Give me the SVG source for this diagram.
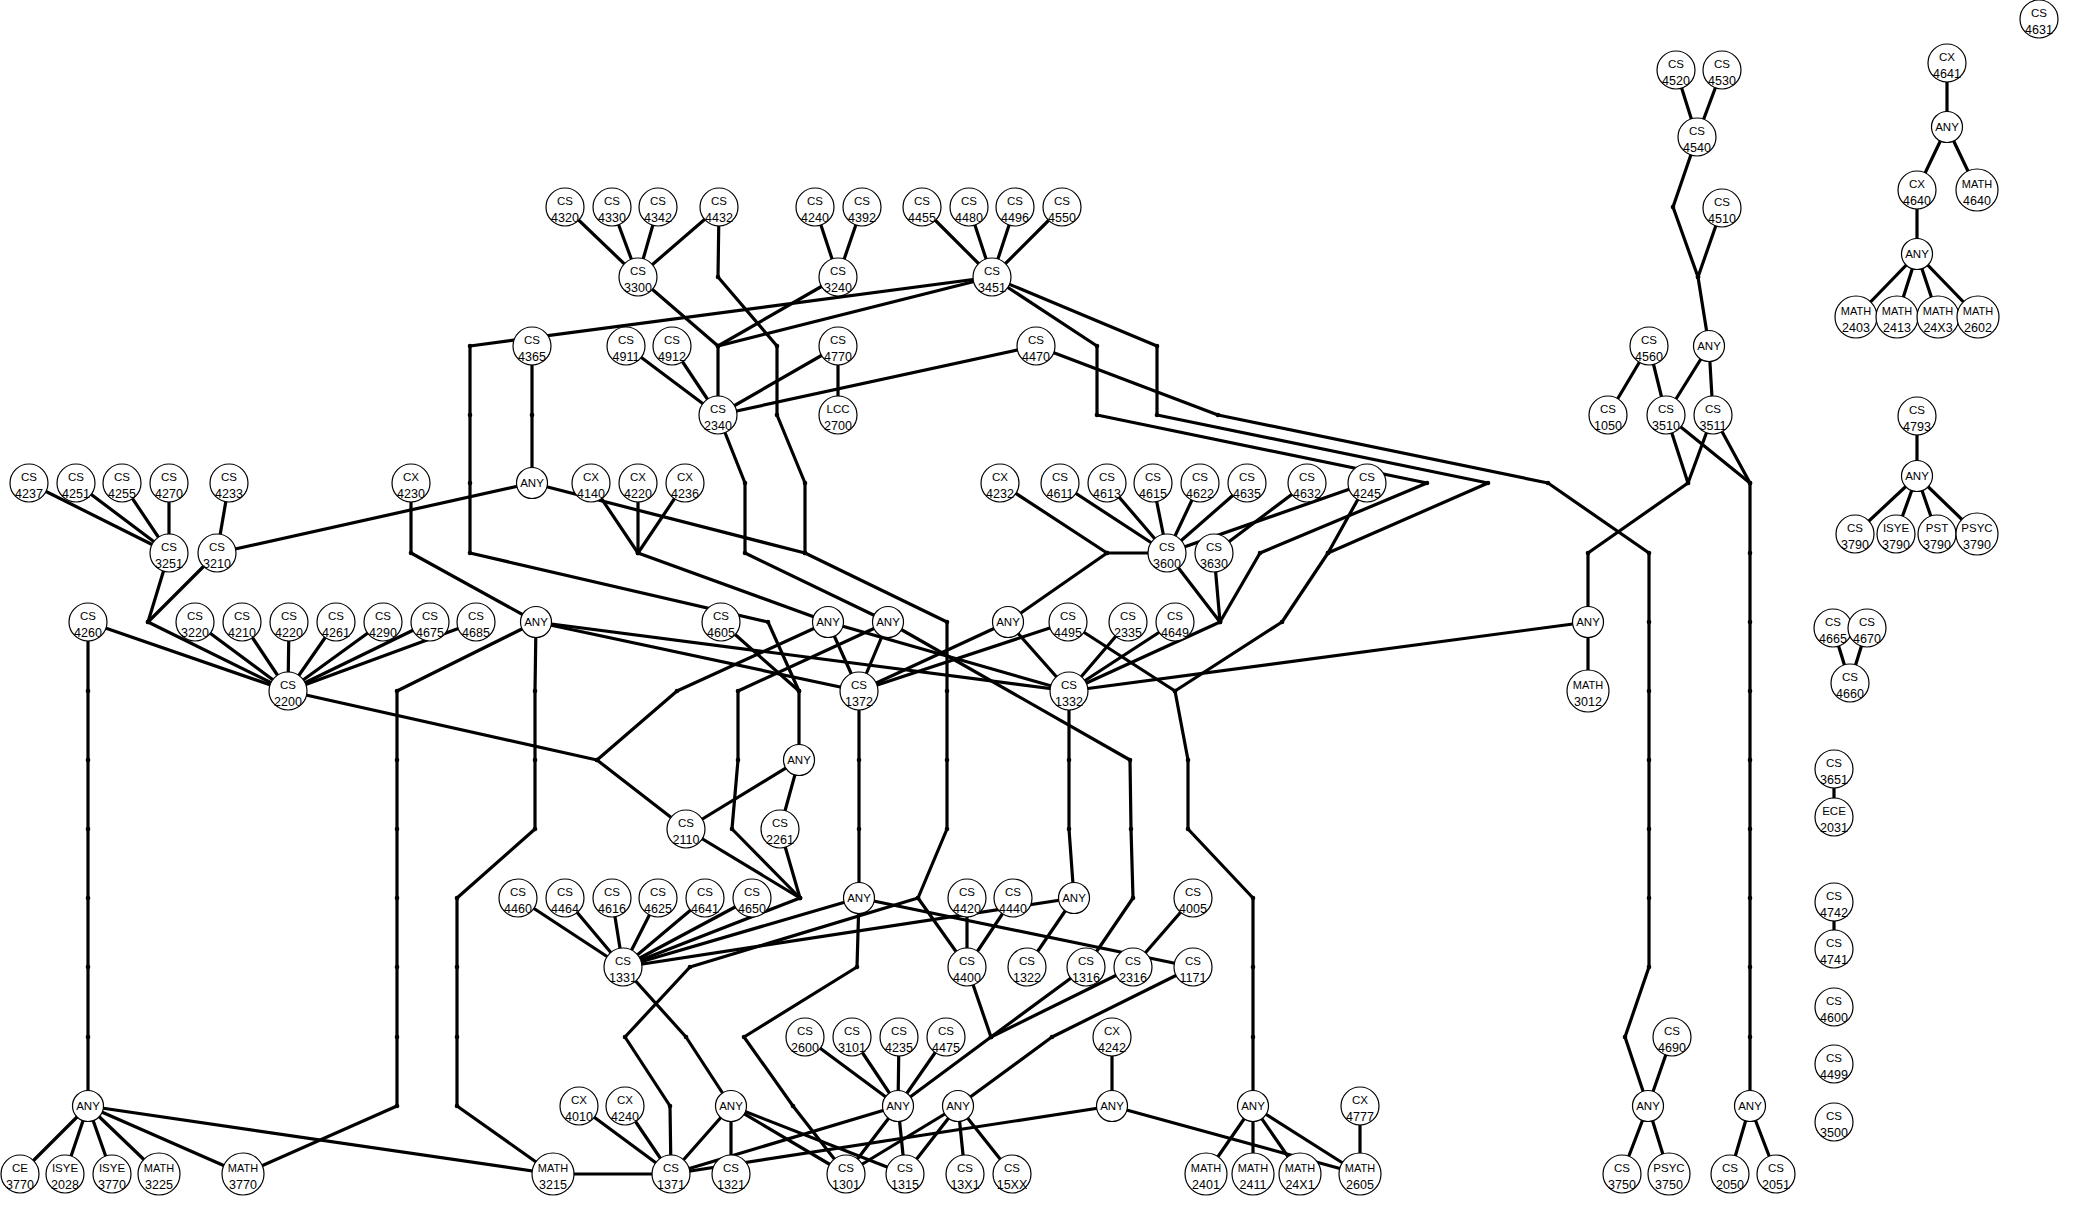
<svg xmlns="http://www.w3.org/2000/svg" width="2077" height="1215" viewBox="0 0 2077 1215">
<style>
.e{fill:none;stroke:#000;stroke-width:3.2;stroke-linejoin:round;stroke-linecap:round;marker-start:url(#d);marker-mid:url(#d);marker-end:url(#d)}
.n{fill:#fff;stroke:#000;stroke-width:1.2}
text{font-family:"Liberation Sans",Arial,sans-serif;font-size:12.5px;text-anchor:middle;fill:#000}
.w{font-size:11.5px}
.m{font-size:11px}
.a{font-size:11.5px}
</style>
<defs>
<marker id="d" viewBox="0 0 6 6" refX="3" refY="3" markerWidth="6" markerHeight="6" markerUnits="userSpaceOnUse"><circle cx="3" cy="3" r="2.3" fill="#000"/></marker>
</defs>
<rect width="2077" height="1215" fill="#fff"/>
<g id="edges">
<polyline class="e" points="565,207 638,277"/>
<polyline class="e" points="612,207 638,277"/>
<polyline class="e" points="658,207 638,277"/>
<polyline class="e" points="719,207 638,277"/>
<polyline class="e" points="719,207 718,277 777,346 777,415 805,483 805,553 947,622 947,691 947,760 947,829 918,898 967,967"/>
<polyline class="e" points="815,207 838,277"/>
<polyline class="e" points="862,207 838,277"/>
<polyline class="e" points="922,207 992,277"/>
<polyline class="e" points="969,207 992,277"/>
<polyline class="e" points="1015,207 992,277"/>
<polyline class="e" points="1062,207 992,277"/>
<polyline class="e" points="992,277 470,346 470,415 470,483 470,553 768,622 799,691 799,760"/>
<polyline class="e" points="992,277 718,346"/>
<polyline class="e" points="838,277 718,346"/>
<polyline class="e" points="638,277 718,346 718,415"/>
<polyline class="e" points="626,346 718,415"/>
<polyline class="e" points="672,346 718,415"/>
<polyline class="e" points="838,346 718,415"/>
<polyline class="e" points="1036,346 718,415"/>
<polyline class="e" points="838,346 838,415"/>
<polyline class="e" points="532,346 532,415 532,483"/>
<polyline class="e" points="718,415 745,483 745,553 888,622"/>
<polyline class="e" points="532,483 217,553"/>
<polyline class="e" points="532,483 805,553"/>
<polyline class="e" points="591,483 638,553"/>
<polyline class="e" points="638,483 638,553"/>
<polyline class="e" points="685,483 638,553 828,622"/>
<polyline class="e" points="411,483 411,553 536,622"/>
<polyline class="e" points="29,483 169,553"/>
<polyline class="e" points="76,483 169,553"/>
<polyline class="e" points="122,483 169,553"/>
<polyline class="e" points="169,483 169,553"/>
<polyline class="e" points="229,483 217,553"/>
<polyline class="e" points="169,553 148,622"/>
<polyline class="e" points="217,553 148,622 288,691"/>
<polyline class="e" points="88,622 288,691"/>
<polyline class="e" points="195,622 288,691"/>
<polyline class="e" points="242,622 288,691"/>
<polyline class="e" points="289,622 288,691"/>
<polyline class="e" points="336,622 288,691"/>
<polyline class="e" points="383,622 288,691"/>
<polyline class="e" points="430,622 288,691"/>
<polyline class="e" points="476,622 288,691"/>
<polyline class="e" points="88,622 88,691 88,760 88,829 88,898 88,967 88,1037 88,1106"/>
<polyline class="e" points="536,622 397,691 397,760 397,829 397,898 397,967 397,1037 397,1106 243,1174"/>
<polyline class="e" points="536,622 535,691 535,760 535,829 457,898 457,967 457,1037 457,1106 553,1174"/>
<polyline class="e" points="536,622 859,691"/>
<polyline class="e" points="536,622 1069,691"/>
<polyline class="e" points="288,691 597,760 686,829"/>
<polyline class="e" points="828,622 677,691 597,760"/>
<polyline class="e" points="828,622 859,691"/>
<polyline class="e" points="828,622 1069,691"/>
<polyline class="e" points="888,622 859,691"/>
<polyline class="e" points="888,622 738,691 738,760 732,829 800,898 623,967"/>
<polyline class="e" points="686,829 800,898"/>
<polyline class="e" points="780,829 800,898"/>
<polyline class="e" points="888,622 1130,760 1131,829 1133,898 1086,967"/>
<polyline class="e" points="1008,622 859,691"/>
<polyline class="e" points="1008,622 1069,691"/>
<polyline class="e" points="1068,622 859,691"/>
<polyline class="e" points="1068,622 1175,691 1188,760 1188,829 1253,898 1253,967 1253,1037 1253,1106"/>
<polyline class="e" points="992,277 1097,346 1097,415 1427,483 1260,553 1220,622 1069,691"/>
<polyline class="e" points="992,277 1157,346 1157,415 1488,483 1328,553 1282,622 1175,691"/>
<polyline class="e" points="1367,483 1328,553"/>
<polyline class="e" points="1367,483 1167,553"/>
<polyline class="e" points="1307,483 1214,553"/>
<polyline class="e" points="1167,553 1220,622"/>
<polyline class="e" points="1214,553 1220,622"/>
<polyline class="e" points="1000,483 1107,553"/>
<polyline class="e" points="1167,553 1107,553 1008,622"/>
<polyline class="e" points="1060,483 1167,553"/>
<polyline class="e" points="1107,483 1167,553"/>
<polyline class="e" points="1153,483 1167,553"/>
<polyline class="e" points="1200,483 1167,553"/>
<polyline class="e" points="1247,483 1167,553"/>
<polyline class="e" points="1128,622 1069,691"/>
<polyline class="e" points="1175,622 1069,691"/>
<polyline class="e" points="1036,346 1218,415 1548,483 1649,553 1649,622 1649,691 1649,760 1649,829 1649,898 1649,967 1625,1037 1648,1106"/>
<polyline class="e" points="1588,622 1069,691"/>
<polyline class="e" points="1666,415 1688,483"/>
<polyline class="e" points="1713,415 1688,483 1588,553 1588,622"/>
<polyline class="e" points="1666,415 1750,483"/>
<polyline class="e" points="1713,415 1750,483 1750,553 1750,622 1750,691 1750,760 1750,829 1750,898 1750,967 1750,1037 1750,1106"/>
<polyline class="e" points="1588,622 1588,691"/>
<polyline class="e" points="721,622 799,691"/>
<polyline class="e" points="799,760 686,829"/>
<polyline class="e" points="799,760 780,829"/>
<polyline class="e" points="859,691 859,760 859,829 859,898"/>
<polyline class="e" points="859,898 623,967"/>
<polyline class="e" points="859,898 1193,967"/>
<polyline class="e" points="859,898 857,967 744,1037 793,1106 846,1174"/>
<polyline class="e" points="918,898 690,967 625,1037 670,1106 671,1174"/>
<polyline class="e" points="1069,691 1069,760 1069,829 1074,898"/>
<polyline class="e" points="1074,898 623,967"/>
<polyline class="e" points="1074,898 1027,967"/>
<polyline class="e" points="967,898 967,967"/>
<polyline class="e" points="1013,898 967,967"/>
<polyline class="e" points="518,898 623,967"/>
<polyline class="e" points="565,898 623,967"/>
<polyline class="e" points="612,898 623,967"/>
<polyline class="e" points="658,898 623,967"/>
<polyline class="e" points="705,898 623,967"/>
<polyline class="e" points="752,898 623,967"/>
<polyline class="e" points="1193,898 1133,967"/>
<polyline class="e" points="623,967 686,1037 731,1106"/>
<polyline class="e" points="731,1106 671,1174"/>
<polyline class="e" points="731,1106 731,1174"/>
<polyline class="e" points="731,1106 846,1174"/>
<polyline class="e" points="731,1106 905,1174"/>
<polyline class="e" points="579,1106 671,1174"/>
<polyline class="e" points="625,1106 671,1174"/>
<polyline class="e" points="553,1174 671,1174"/>
<polyline class="e" points="967,967 991,1037"/>
<polyline class="e" points="1086,967 991,1037"/>
<polyline class="e" points="1133,967 991,1037 898,1106"/>
<polyline class="e" points="1193,967 1052,1037 958,1106"/>
<polyline class="e" points="805,1037 898,1106"/>
<polyline class="e" points="852,1037 898,1106"/>
<polyline class="e" points="899,1037 898,1106"/>
<polyline class="e" points="946,1037 898,1106"/>
<polyline class="e" points="898,1106 671,1174"/>
<polyline class="e" points="898,1106 846,1174"/>
<polyline class="e" points="898,1106 905,1174"/>
<polyline class="e" points="958,1106 846,1174"/>
<polyline class="e" points="958,1106 905,1174"/>
<polyline class="e" points="958,1106 965,1174"/>
<polyline class="e" points="958,1106 1012,1174"/>
<polyline class="e" points="1112,1037 1112,1106"/>
<polyline class="e" points="1112,1106 671,1174"/>
<polyline class="e" points="1112,1106 1360,1174"/>
<polyline class="e" points="1253,1106 1206,1174"/>
<polyline class="e" points="1253,1106 1253,1174"/>
<polyline class="e" points="1253,1106 1300,1174"/>
<polyline class="e" points="1253,1106 1360,1174"/>
<polyline class="e" points="1360,1106 1360,1174"/>
<polyline class="e" points="88,1106 20,1174"/>
<polyline class="e" points="88,1106 65,1174"/>
<polyline class="e" points="88,1106 112,1174"/>
<polyline class="e" points="88,1106 159,1174"/>
<polyline class="e" points="88,1106 243,1174"/>
<polyline class="e" points="88,1106 553,1174"/>
<polyline class="e" points="1676,70 1697,137"/>
<polyline class="e" points="1722,70 1697,137 1673,207 1698,277 1709,346"/>
<polyline class="e" points="1722,208 1698,277"/>
<polyline class="e" points="1709,346 1666,415"/>
<polyline class="e" points="1709,346 1713,415"/>
<polyline class="e" points="1649,346 1608,415"/>
<polyline class="e" points="1649,346 1666,415"/>
<polyline class="e" points="1672,1037 1648,1106"/>
<polyline class="e" points="1648,1106 1622,1174"/>
<polyline class="e" points="1648,1106 1669,1174"/>
<polyline class="e" points="1750,1106 1730,1174"/>
<polyline class="e" points="1750,1106 1776,1174"/>
<polyline class="e" points="1947,63 1947,127"/>
<polyline class="e" points="1947,127 1917,190"/>
<polyline class="e" points="1947,127 1977,190"/>
<polyline class="e" points="1917,190 1917,254"/>
<polyline class="e" points="1917,254 1856,317"/>
<polyline class="e" points="1917,254 1897,317"/>
<polyline class="e" points="1917,254 1938,317"/>
<polyline class="e" points="1917,254 1978,317"/>
<polyline class="e" points="1917,416 1917,476"/>
<polyline class="e" points="1917,476 1855,534"/>
<polyline class="e" points="1917,476 1896,534"/>
<polyline class="e" points="1917,476 1937,534"/>
<polyline class="e" points="1917,476 1977,534"/>
<polyline class="e" points="1833,628 1850,683"/>
<polyline class="e" points="1867,628 1850,683"/>
<polyline class="e" points="1834,769 1834,817"/>
<polyline class="e" points="1834,902 1834,949"/>
</g>
<g id="nodes">
<g id="cs4320"><circle class="n" cx="565" cy="207" r="19"/><text x="565" y="205"><tspan class="w">CS</tspan><tspan x="565" dy="17">4320</tspan></text></g>
<g id="cs4330"><circle class="n" cx="612" cy="207" r="19"/><text x="612" y="205"><tspan class="w">CS</tspan><tspan x="612" dy="17">4330</tspan></text></g>
<g id="cs4342"><circle class="n" cx="658" cy="207" r="19"/><text x="658" y="205"><tspan class="w">CS</tspan><tspan x="658" dy="17">4342</tspan></text></g>
<g id="cs4432"><circle class="n" cx="719" cy="207" r="19"/><text x="719" y="205"><tspan class="w">CS</tspan><tspan x="719" dy="17">4432</tspan></text></g>
<g id="cs4240"><circle class="n" cx="815" cy="207" r="19"/><text x="815" y="205"><tspan class="w">CS</tspan><tspan x="815" dy="17">4240</tspan></text></g>
<g id="cs4392"><circle class="n" cx="862" cy="207" r="19"/><text x="862" y="205"><tspan class="w">CS</tspan><tspan x="862" dy="17">4392</tspan></text></g>
<g id="cs4455"><circle class="n" cx="922" cy="207" r="19"/><text x="922" y="205"><tspan class="w">CS</tspan><tspan x="922" dy="17">4455</tspan></text></g>
<g id="cs4480"><circle class="n" cx="969" cy="207" r="19"/><text x="969" y="205"><tspan class="w">CS</tspan><tspan x="969" dy="17">4480</tspan></text></g>
<g id="cs4496"><circle class="n" cx="1015" cy="207" r="19"/><text x="1015" y="205"><tspan class="w">CS</tspan><tspan x="1015" dy="17">4496</tspan></text></g>
<g id="cs4550"><circle class="n" cx="1062" cy="207" r="19"/><text x="1062" y="205"><tspan class="w">CS</tspan><tspan x="1062" dy="17">4550</tspan></text></g>
<g id="cs3300"><circle class="n" cx="638" cy="277" r="19"/><text x="638" y="275"><tspan class="w">CS</tspan><tspan x="638" dy="17">3300</tspan></text></g>
<g id="cs3240"><circle class="n" cx="838" cy="277" r="19"/><text x="838" y="275"><tspan class="w">CS</tspan><tspan x="838" dy="17">3240</tspan></text></g>
<g id="cs3451"><circle class="n" cx="992" cy="277" r="19"/><text x="992" y="275"><tspan class="w">CS</tspan><tspan x="992" dy="17">3451</tspan></text></g>
<g id="cs4365"><circle class="n" cx="532" cy="346" r="19"/><text x="532" y="344"><tspan class="w">CS</tspan><tspan x="532" dy="17">4365</tspan></text></g>
<g id="cs4911"><circle class="n" cx="626" cy="346" r="19"/><text x="626" y="344"><tspan class="w">CS</tspan><tspan x="626" dy="17">4911</tspan></text></g>
<g id="cs4912"><circle class="n" cx="672" cy="346" r="19"/><text x="672" y="344"><tspan class="w">CS</tspan><tspan x="672" dy="17">4912</tspan></text></g>
<g id="cs4770"><circle class="n" cx="838" cy="346" r="19"/><text x="838" y="344"><tspan class="w">CS</tspan><tspan x="838" dy="17">4770</tspan></text></g>
<g id="cs4470"><circle class="n" cx="1036" cy="346" r="19"/><text x="1036" y="344"><tspan class="w">CS</tspan><tspan x="1036" dy="17">4470</tspan></text></g>
<g id="cs2340"><circle class="n" cx="718" cy="415" r="19"/><text x="718" y="413"><tspan class="w">CS</tspan><tspan x="718" dy="17">2340</tspan></text></g>
<g id="lcc2700"><circle class="n" cx="838" cy="415" r="19"/><text x="838" y="413"><tspan class="w">LCC</tspan><tspan x="838" dy="17">2700</tspan></text></g>
<g id="cs4237"><circle class="n" cx="29" cy="483" r="19"/><text x="29" y="481"><tspan class="w">CS</tspan><tspan x="29" dy="17">4237</tspan></text></g>
<g id="cs4251"><circle class="n" cx="76" cy="483" r="19"/><text x="76" y="481"><tspan class="w">CS</tspan><tspan x="76" dy="17">4251</tspan></text></g>
<g id="cs4255"><circle class="n" cx="122" cy="483" r="19"/><text x="122" y="481"><tspan class="w">CS</tspan><tspan x="122" dy="17">4255</tspan></text></g>
<g id="cs4270"><circle class="n" cx="169" cy="483" r="19"/><text x="169" y="481"><tspan class="w">CS</tspan><tspan x="169" dy="17">4270</tspan></text></g>
<g id="cs4233"><circle class="n" cx="229" cy="483" r="19"/><text x="229" y="481"><tspan class="w">CS</tspan><tspan x="229" dy="17">4233</tspan></text></g>
<g id="cx4230"><circle class="n" cx="411" cy="483" r="19"/><text x="411" y="481"><tspan class="w">CX</tspan><tspan x="411" dy="17">4230</tspan></text></g>
<g id="any1"><circle class="n" cx="532" cy="483" r="15.5"/><text class="a" x="532" y="487">ANY</text></g>
<g id="cx4140"><circle class="n" cx="591" cy="483" r="19"/><text x="591" y="481"><tspan class="w">CX</tspan><tspan x="591" dy="17">4140</tspan></text></g>
<g id="cx4220"><circle class="n" cx="638" cy="483" r="19"/><text x="638" y="481"><tspan class="w">CX</tspan><tspan x="638" dy="17">4220</tspan></text></g>
<g id="cx4236"><circle class="n" cx="685" cy="483" r="19"/><text x="685" y="481"><tspan class="w">CX</tspan><tspan x="685" dy="17">4236</tspan></text></g>
<g id="cx4232"><circle class="n" cx="1000" cy="483" r="19"/><text x="1000" y="481"><tspan class="w">CX</tspan><tspan x="1000" dy="17">4232</tspan></text></g>
<g id="cs4611"><circle class="n" cx="1060" cy="483" r="19"/><text x="1060" y="481"><tspan class="w">CS</tspan><tspan x="1060" dy="17">4611</tspan></text></g>
<g id="cs4613"><circle class="n" cx="1107" cy="483" r="19"/><text x="1107" y="481"><tspan class="w">CS</tspan><tspan x="1107" dy="17">4613</tspan></text></g>
<g id="cs4615"><circle class="n" cx="1153" cy="483" r="19"/><text x="1153" y="481"><tspan class="w">CS</tspan><tspan x="1153" dy="17">4615</tspan></text></g>
<g id="cs4622"><circle class="n" cx="1200" cy="483" r="19"/><text x="1200" y="481"><tspan class="w">CS</tspan><tspan x="1200" dy="17">4622</tspan></text></g>
<g id="cs4635"><circle class="n" cx="1247" cy="483" r="19"/><text x="1247" y="481"><tspan class="w">CS</tspan><tspan x="1247" dy="17">4635</tspan></text></g>
<g id="cs4632"><circle class="n" cx="1307" cy="483" r="19"/><text x="1307" y="481"><tspan class="w">CS</tspan><tspan x="1307" dy="17">4632</tspan></text></g>
<g id="cs4245"><circle class="n" cx="1367" cy="483" r="19"/><text x="1367" y="481"><tspan class="w">CS</tspan><tspan x="1367" dy="17">4245</tspan></text></g>
<g id="cs3251"><circle class="n" cx="169" cy="553" r="19"/><text x="169" y="551"><tspan class="w">CS</tspan><tspan x="169" dy="17">3251</tspan></text></g>
<g id="cs3210"><circle class="n" cx="217" cy="553" r="19"/><text x="217" y="551"><tspan class="w">CS</tspan><tspan x="217" dy="17">3210</tspan></text></g>
<g id="cs3600"><circle class="n" cx="1167" cy="553" r="19"/><text x="1167" y="551"><tspan class="w">CS</tspan><tspan x="1167" dy="17">3600</tspan></text></g>
<g id="cs3630"><circle class="n" cx="1214" cy="553" r="19"/><text x="1214" y="551"><tspan class="w">CS</tspan><tspan x="1214" dy="17">3630</tspan></text></g>
<g id="cs4260"><circle class="n" cx="88" cy="622" r="19"/><text x="88" y="620"><tspan class="w">CS</tspan><tspan x="88" dy="17">4260</tspan></text></g>
<g id="cs3220"><circle class="n" cx="195" cy="622" r="19"/><text x="195" y="620"><tspan class="w">CS</tspan><tspan x="195" dy="17">3220</tspan></text></g>
<g id="cs4210"><circle class="n" cx="242" cy="622" r="19"/><text x="242" y="620"><tspan class="w">CS</tspan><tspan x="242" dy="17">4210</tspan></text></g>
<g id="cs4220"><circle class="n" cx="289" cy="622" r="19"/><text x="289" y="620"><tspan class="w">CS</tspan><tspan x="289" dy="17">4220</tspan></text></g>
<g id="cs4261"><circle class="n" cx="336" cy="622" r="19"/><text x="336" y="620"><tspan class="w">CS</tspan><tspan x="336" dy="17">4261</tspan></text></g>
<g id="cs4290"><circle class="n" cx="383" cy="622" r="19"/><text x="383" y="620"><tspan class="w">CS</tspan><tspan x="383" dy="17">4290</tspan></text></g>
<g id="cs4675"><circle class="n" cx="430" cy="622" r="19"/><text x="430" y="620"><tspan class="w">CS</tspan><tspan x="430" dy="17">4675</tspan></text></g>
<g id="cs4685"><circle class="n" cx="476" cy="622" r="19"/><text x="476" y="620"><tspan class="w">CS</tspan><tspan x="476" dy="17">4685</tspan></text></g>
<g id="any2"><circle class="n" cx="536" cy="622" r="15.5"/><text class="a" x="536" y="626">ANY</text></g>
<g id="cs4605"><circle class="n" cx="721" cy="622" r="19"/><text x="721" y="620"><tspan class="w">CS</tspan><tspan x="721" dy="17">4605</tspan></text></g>
<g id="any3"><circle class="n" cx="828" cy="622" r="15.5"/><text class="a" x="828" y="626">ANY</text></g>
<g id="any4"><circle class="n" cx="888" cy="622" r="15.5"/><text class="a" x="888" y="626">ANY</text></g>
<g id="any5"><circle class="n" cx="1008" cy="622" r="15.5"/><text class="a" x="1008" y="626">ANY</text></g>
<g id="cs4495"><circle class="n" cx="1068" cy="622" r="19"/><text x="1068" y="620"><tspan class="w">CS</tspan><tspan x="1068" dy="17">4495</tspan></text></g>
<g id="cs2335"><circle class="n" cx="1128" cy="622" r="19"/><text x="1128" y="620"><tspan class="w">CS</tspan><tspan x="1128" dy="17">2335</tspan></text></g>
<g id="cs4649"><circle class="n" cx="1175" cy="622" r="19"/><text x="1175" y="620"><tspan class="w">CS</tspan><tspan x="1175" dy="17">4649</tspan></text></g>
<g id="any6"><circle class="n" cx="1588" cy="622" r="15.5"/><text class="a" x="1588" y="626">ANY</text></g>
<g id="cs2200"><circle class="n" cx="288" cy="691" r="19"/><text x="288" y="689"><tspan class="w">CS</tspan><tspan x="288" dy="17">2200</tspan></text></g>
<g id="cs1372"><circle class="n" cx="859" cy="691" r="19"/><text x="859" y="689"><tspan class="w">CS</tspan><tspan x="859" dy="17">1372</tspan></text></g>
<g id="cs1332"><circle class="n" cx="1069" cy="691" r="19"/><text x="1069" y="689"><tspan class="w">CS</tspan><tspan x="1069" dy="17">1332</tspan></text></g>
<g id="math3012"><circle class="n" cx="1588" cy="691" r="21"/><text x="1588" y="689"><tspan class="m">MATH</tspan><tspan x="1588" dy="17">3012</tspan></text></g>
<g id="any7"><circle class="n" cx="799" cy="760" r="15.5"/><text class="a" x="799" y="764">ANY</text></g>
<g id="cs2110"><circle class="n" cx="686" cy="829" r="19"/><text x="686" y="827"><tspan class="w">CS</tspan><tspan x="686" dy="17">2110</tspan></text></g>
<g id="cs2261"><circle class="n" cx="780" cy="829" r="19"/><text x="780" y="827"><tspan class="w">CS</tspan><tspan x="780" dy="17">2261</tspan></text></g>
<g id="cs4460"><circle class="n" cx="518" cy="898" r="19"/><text x="518" y="896"><tspan class="w">CS</tspan><tspan x="518" dy="17">4460</tspan></text></g>
<g id="cs4464"><circle class="n" cx="565" cy="898" r="19"/><text x="565" y="896"><tspan class="w">CS</tspan><tspan x="565" dy="17">4464</tspan></text></g>
<g id="cs4616"><circle class="n" cx="612" cy="898" r="19"/><text x="612" y="896"><tspan class="w">CS</tspan><tspan x="612" dy="17">4616</tspan></text></g>
<g id="cs4625"><circle class="n" cx="658" cy="898" r="19"/><text x="658" y="896"><tspan class="w">CS</tspan><tspan x="658" dy="17">4625</tspan></text></g>
<g id="cs4641"><circle class="n" cx="705" cy="898" r="19"/><text x="705" y="896"><tspan class="w">CS</tspan><tspan x="705" dy="17">4641</tspan></text></g>
<g id="cs4650"><circle class="n" cx="752" cy="898" r="19"/><text x="752" y="896"><tspan class="w">CS</tspan><tspan x="752" dy="17">4650</tspan></text></g>
<g id="any8"><circle class="n" cx="859" cy="898" r="15.5"/><text class="a" x="859" y="902">ANY</text></g>
<g id="cs4420"><circle class="n" cx="967" cy="898" r="19"/><text x="967" y="896"><tspan class="w">CS</tspan><tspan x="967" dy="17">4420</tspan></text></g>
<g id="cs4440"><circle class="n" cx="1013" cy="898" r="19"/><text x="1013" y="896"><tspan class="w">CS</tspan><tspan x="1013" dy="17">4440</tspan></text></g>
<g id="any9"><circle class="n" cx="1074" cy="898" r="15.5"/><text class="a" x="1074" y="902">ANY</text></g>
<g id="cs4005"><circle class="n" cx="1193" cy="898" r="19"/><text x="1193" y="896"><tspan class="w">CS</tspan><tspan x="1193" dy="17">4005</tspan></text></g>
<g id="cs1331"><circle class="n" cx="623" cy="967" r="19"/><text x="623" y="965"><tspan class="w">CS</tspan><tspan x="623" dy="17">1331</tspan></text></g>
<g id="cs4400"><circle class="n" cx="967" cy="967" r="19"/><text x="967" y="965"><tspan class="w">CS</tspan><tspan x="967" dy="17">4400</tspan></text></g>
<g id="cs1322"><circle class="n" cx="1027" cy="967" r="19"/><text x="1027" y="965"><tspan class="w">CS</tspan><tspan x="1027" dy="17">1322</tspan></text></g>
<g id="cs1316"><circle class="n" cx="1086" cy="967" r="19"/><text x="1086" y="965"><tspan class="w">CS</tspan><tspan x="1086" dy="17">1316</tspan></text></g>
<g id="cs2316"><circle class="n" cx="1133" cy="967" r="19"/><text x="1133" y="965"><tspan class="w">CS</tspan><tspan x="1133" dy="17">2316</tspan></text></g>
<g id="cs1171"><circle class="n" cx="1193" cy="967" r="19"/><text x="1193" y="965"><tspan class="w">CS</tspan><tspan x="1193" dy="17">1171</tspan></text></g>
<g id="cs2600"><circle class="n" cx="805" cy="1037" r="19"/><text x="805" y="1035"><tspan class="w">CS</tspan><tspan x="805" dy="17">2600</tspan></text></g>
<g id="cs3101"><circle class="n" cx="852" cy="1037" r="19"/><text x="852" y="1035"><tspan class="w">CS</tspan><tspan x="852" dy="17">3101</tspan></text></g>
<g id="cs4235"><circle class="n" cx="899" cy="1037" r="19"/><text x="899" y="1035"><tspan class="w">CS</tspan><tspan x="899" dy="17">4235</tspan></text></g>
<g id="cs4475"><circle class="n" cx="946" cy="1037" r="19"/><text x="946" y="1035"><tspan class="w">CS</tspan><tspan x="946" dy="17">4475</tspan></text></g>
<g id="cx4242"><circle class="n" cx="1112" cy="1037" r="19"/><text x="1112" y="1035"><tspan class="w">CX</tspan><tspan x="1112" dy="17">4242</tspan></text></g>
<g id="cs4690"><circle class="n" cx="1672" cy="1037" r="19"/><text x="1672" y="1035"><tspan class="w">CS</tspan><tspan x="1672" dy="17">4690</tspan></text></g>
<g id="any10"><circle class="n" cx="88" cy="1106" r="15.5"/><text class="a" x="88" y="1110">ANY</text></g>
<g id="cx4010"><circle class="n" cx="579" cy="1106" r="19"/><text x="579" y="1104"><tspan class="w">CX</tspan><tspan x="579" dy="17">4010</tspan></text></g>
<g id="cx4240"><circle class="n" cx="625" cy="1106" r="19"/><text x="625" y="1104"><tspan class="w">CX</tspan><tspan x="625" dy="17">4240</tspan></text></g>
<g id="any11"><circle class="n" cx="731" cy="1106" r="15.5"/><text class="a" x="731" y="1110">ANY</text></g>
<g id="any12"><circle class="n" cx="898" cy="1106" r="15.5"/><text class="a" x="898" y="1110">ANY</text></g>
<g id="any13"><circle class="n" cx="958" cy="1106" r="15.5"/><text class="a" x="958" y="1110">ANY</text></g>
<g id="any14"><circle class="n" cx="1112" cy="1106" r="15.5"/><text class="a" x="1112" y="1110">ANY</text></g>
<g id="any15"><circle class="n" cx="1253" cy="1106" r="15.5"/><text class="a" x="1253" y="1110">ANY</text></g>
<g id="cx4777"><circle class="n" cx="1360" cy="1106" r="19"/><text x="1360" y="1104"><tspan class="w">CX</tspan><tspan x="1360" dy="17">4777</tspan></text></g>
<g id="any16"><circle class="n" cx="1648" cy="1106" r="15.5"/><text class="a" x="1648" y="1110">ANY</text></g>
<g id="any17"><circle class="n" cx="1750" cy="1106" r="15.5"/><text class="a" x="1750" y="1110">ANY</text></g>
<g id="ce3770"><circle class="n" cx="20" cy="1174" r="19"/><text x="20" y="1172"><tspan class="w">CE</tspan><tspan x="20" dy="17">3770</tspan></text></g>
<g id="isye2028"><circle class="n" cx="65" cy="1174" r="19"/><text x="65" y="1172"><tspan class="w">ISYE</tspan><tspan x="65" dy="17">2028</tspan></text></g>
<g id="isye3770"><circle class="n" cx="112" cy="1174" r="19"/><text x="112" y="1172"><tspan class="w">ISYE</tspan><tspan x="112" dy="17">3770</tspan></text></g>
<g id="math3225"><circle class="n" cx="159" cy="1174" r="21"/><text x="159" y="1172"><tspan class="m">MATH</tspan><tspan x="159" dy="17">3225</tspan></text></g>
<g id="math3770"><circle class="n" cx="243" cy="1174" r="21"/><text x="243" y="1172"><tspan class="m">MATH</tspan><tspan x="243" dy="17">3770</tspan></text></g>
<g id="math3215"><circle class="n" cx="553" cy="1174" r="21"/><text x="553" y="1172"><tspan class="m">MATH</tspan><tspan x="553" dy="17">3215</tspan></text></g>
<g id="cs1371"><circle class="n" cx="671" cy="1174" r="19"/><text x="671" y="1172"><tspan class="w">CS</tspan><tspan x="671" dy="17">1371</tspan></text></g>
<g id="cs1321"><circle class="n" cx="731" cy="1174" r="19"/><text x="731" y="1172"><tspan class="w">CS</tspan><tspan x="731" dy="17">1321</tspan></text></g>
<g id="cs1301"><circle class="n" cx="846" cy="1174" r="19"/><text x="846" y="1172"><tspan class="w">CS</tspan><tspan x="846" dy="17">1301</tspan></text></g>
<g id="cs1315"><circle class="n" cx="905" cy="1174" r="19"/><text x="905" y="1172"><tspan class="w">CS</tspan><tspan x="905" dy="17">1315</tspan></text></g>
<g id="cs13x1"><circle class="n" cx="965" cy="1174" r="19"/><text x="965" y="1172"><tspan class="w">CS</tspan><tspan x="965" dy="17">13X1</tspan></text></g>
<g id="cs15xx"><circle class="n" cx="1012" cy="1174" r="19"/><text x="1012" y="1172"><tspan class="w">CS</tspan><tspan x="1012" dy="17">15XX</tspan></text></g>
<g id="math2401"><circle class="n" cx="1206" cy="1174" r="21"/><text x="1206" y="1172"><tspan class="m">MATH</tspan><tspan x="1206" dy="17">2401</tspan></text></g>
<g id="math2411"><circle class="n" cx="1253" cy="1174" r="21"/><text x="1253" y="1172"><tspan class="m">MATH</tspan><tspan x="1253" dy="17">2411</tspan></text></g>
<g id="math24x1"><circle class="n" cx="1300" cy="1174" r="21"/><text x="1300" y="1172"><tspan class="m">MATH</tspan><tspan x="1300" dy="17">24X1</tspan></text></g>
<g id="math2605"><circle class="n" cx="1360" cy="1174" r="21"/><text x="1360" y="1172"><tspan class="m">MATH</tspan><tspan x="1360" dy="17">2605</tspan></text></g>
<g id="cs3750"><circle class="n" cx="1622" cy="1174" r="19"/><text x="1622" y="1172"><tspan class="w">CS</tspan><tspan x="1622" dy="17">3750</tspan></text></g>
<g id="psyc3750"><circle class="n" cx="1669" cy="1174" r="21"/><text x="1669" y="1172"><tspan class="w">PSYC</tspan><tspan x="1669" dy="17">3750</tspan></text></g>
<g id="cs2050"><circle class="n" cx="1730" cy="1174" r="19"/><text x="1730" y="1172"><tspan class="w">CS</tspan><tspan x="1730" dy="17">2050</tspan></text></g>
<g id="cs2051"><circle class="n" cx="1776" cy="1174" r="19"/><text x="1776" y="1172"><tspan class="w">CS</tspan><tspan x="1776" dy="17">2051</tspan></text></g>
<g id="cs4520"><circle class="n" cx="1676" cy="70" r="19"/><text x="1676" y="68"><tspan class="w">CS</tspan><tspan x="1676" dy="17">4520</tspan></text></g>
<g id="cs4530"><circle class="n" cx="1722" cy="70" r="19"/><text x="1722" y="68"><tspan class="w">CS</tspan><tspan x="1722" dy="17">4530</tspan></text></g>
<g id="cs4540"><circle class="n" cx="1697" cy="137" r="19"/><text x="1697" y="135"><tspan class="w">CS</tspan><tspan x="1697" dy="17">4540</tspan></text></g>
<g id="cs4510"><circle class="n" cx="1722" cy="208" r="19"/><text x="1722" y="206"><tspan class="w">CS</tspan><tspan x="1722" dy="17">4510</tspan></text></g>
<g id="any18"><circle class="n" cx="1709" cy="346" r="15.5"/><text class="a" x="1709" y="350">ANY</text></g>
<g id="cs4560"><circle class="n" cx="1649" cy="346" r="19"/><text x="1649" y="344"><tspan class="w">CS</tspan><tspan x="1649" dy="17">4560</tspan></text></g>
<g id="cs1050"><circle class="n" cx="1608" cy="415" r="19"/><text x="1608" y="413"><tspan class="w">CS</tspan><tspan x="1608" dy="17">1050</tspan></text></g>
<g id="cs3510"><circle class="n" cx="1666" cy="415" r="19"/><text x="1666" y="413"><tspan class="w">CS</tspan><tspan x="1666" dy="17">3510</tspan></text></g>
<g id="cs3511"><circle class="n" cx="1713" cy="415" r="19"/><text x="1713" y="413"><tspan class="w">CS</tspan><tspan x="1713" dy="17">3511</tspan></text></g>
<g id="cs4631"><circle class="n" cx="2039" cy="19" r="19"/><text x="2039" y="17"><tspan class="w">CS</tspan><tspan x="2039" dy="17">4631</tspan></text></g>
<g id="cx4641"><circle class="n" cx="1947" cy="63" r="19"/><text x="1947" y="61"><tspan class="w">CX</tspan><tspan x="1947" dy="17">4641</tspan></text></g>
<g id="any19"><circle class="n" cx="1947" cy="127" r="15.5"/><text class="a" x="1947" y="131">ANY</text></g>
<g id="cx4640"><circle class="n" cx="1917" cy="190" r="19"/><text x="1917" y="188"><tspan class="w">CX</tspan><tspan x="1917" dy="17">4640</tspan></text></g>
<g id="math4640"><circle class="n" cx="1977" cy="190" r="21"/><text x="1977" y="188"><tspan class="m">MATH</tspan><tspan x="1977" dy="17">4640</tspan></text></g>
<g id="any20"><circle class="n" cx="1917" cy="254" r="15.5"/><text class="a" x="1917" y="258">ANY</text></g>
<g id="math2403"><circle class="n" cx="1856" cy="317" r="21"/><text x="1856" y="315"><tspan class="m">MATH</tspan><tspan x="1856" dy="17">2403</tspan></text></g>
<g id="math2413"><circle class="n" cx="1897" cy="317" r="21"/><text x="1897" y="315"><tspan class="m">MATH</tspan><tspan x="1897" dy="17">2413</tspan></text></g>
<g id="math24x3"><circle class="n" cx="1938" cy="317" r="21"/><text x="1938" y="315"><tspan class="m">MATH</tspan><tspan x="1938" dy="17">24X3</tspan></text></g>
<g id="math2602"><circle class="n" cx="1978" cy="317" r="21"/><text x="1978" y="315"><tspan class="m">MATH</tspan><tspan x="1978" dy="17">2602</tspan></text></g>
<g id="cs4793"><circle class="n" cx="1917" cy="416" r="19"/><text x="1917" y="414"><tspan class="w">CS</tspan><tspan x="1917" dy="17">4793</tspan></text></g>
<g id="any21"><circle class="n" cx="1917" cy="476" r="15.5"/><text class="a" x="1917" y="480">ANY</text></g>
<g id="cs3790"><circle class="n" cx="1855" cy="534" r="19"/><text x="1855" y="532"><tspan class="w">CS</tspan><tspan x="1855" dy="17">3790</tspan></text></g>
<g id="isye3790"><circle class="n" cx="1896" cy="534" r="19"/><text x="1896" y="532"><tspan class="w">ISYE</tspan><tspan x="1896" dy="17">3790</tspan></text></g>
<g id="pst3790"><circle class="n" cx="1937" cy="534" r="19"/><text x="1937" y="532"><tspan class="w">PST</tspan><tspan x="1937" dy="17">3790</tspan></text></g>
<g id="psyc3790"><circle class="n" cx="1977" cy="534" r="21"/><text x="1977" y="532"><tspan class="w">PSYC</tspan><tspan x="1977" dy="17">3790</tspan></text></g>
<g id="cs4665"><circle class="n" cx="1833" cy="628" r="19"/><text x="1833" y="626"><tspan class="w">CS</tspan><tspan x="1833" dy="17">4665</tspan></text></g>
<g id="cs4670"><circle class="n" cx="1867" cy="628" r="19"/><text x="1867" y="626"><tspan class="w">CS</tspan><tspan x="1867" dy="17">4670</tspan></text></g>
<g id="cs4660"><circle class="n" cx="1850" cy="683" r="19"/><text x="1850" y="681"><tspan class="w">CS</tspan><tspan x="1850" dy="17">4660</tspan></text></g>
<g id="cs3651"><circle class="n" cx="1834" cy="769" r="19"/><text x="1834" y="767"><tspan class="w">CS</tspan><tspan x="1834" dy="17">3651</tspan></text></g>
<g id="ece2031"><circle class="n" cx="1834" cy="817" r="19"/><text x="1834" y="815"><tspan class="w">ECE</tspan><tspan x="1834" dy="17">2031</tspan></text></g>
<g id="cs4742"><circle class="n" cx="1834" cy="902" r="19"/><text x="1834" y="900"><tspan class="w">CS</tspan><tspan x="1834" dy="17">4742</tspan></text></g>
<g id="cs4741"><circle class="n" cx="1834" cy="949" r="19"/><text x="1834" y="947"><tspan class="w">CS</tspan><tspan x="1834" dy="17">4741</tspan></text></g>
<g id="cs4600"><circle class="n" cx="1834" cy="1007" r="19"/><text x="1834" y="1005"><tspan class="w">CS</tspan><tspan x="1834" dy="17">4600</tspan></text></g>
<g id="cs4499"><circle class="n" cx="1834" cy="1064" r="19"/><text x="1834" y="1062"><tspan class="w">CS</tspan><tspan x="1834" dy="17">4499</tspan></text></g>
<g id="cs3500"><circle class="n" cx="1834" cy="1122" r="19"/><text x="1834" y="1120"><tspan class="w">CS</tspan><tspan x="1834" dy="17">3500</tspan></text></g>
</g>
</svg>
